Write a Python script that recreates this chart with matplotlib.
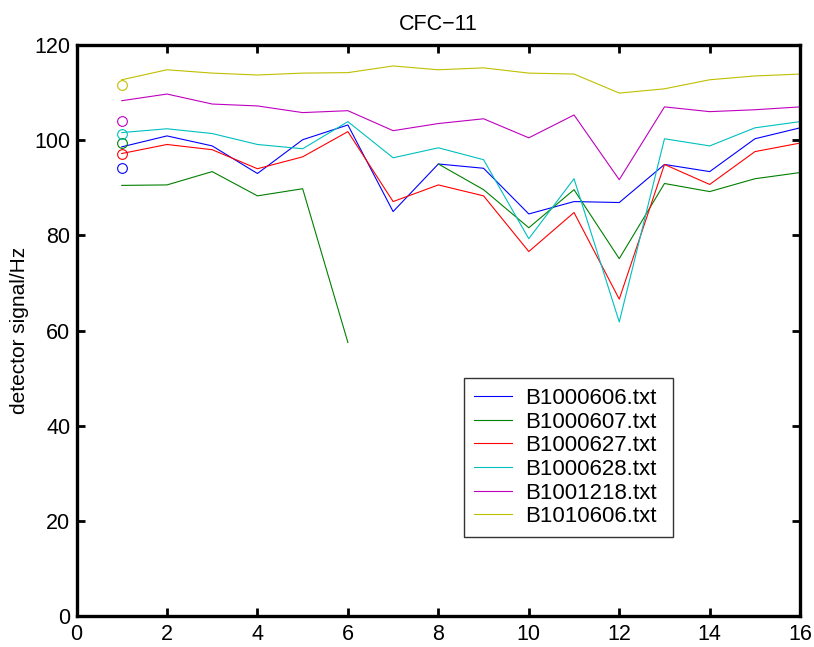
import numpy as np
import matplotlib
matplotlib.use('Agg')
import matplotlib.pyplot as plt

plt.rcParams['font.family'] = ['Liberation Sans', 'DejaVu Sans']

# measurement index
x = np.arange(1, 17)

# detector signal per file
names = ['B1000606.txt', 'B1000607.txt', 'B1000627.txt',
         'B1000628.txt', 'B1001218.txt', 'B1010606.txt']
b1000606 = [98.6, 100.9, 98.8, 93.0, 100.1, 103.2, 85.0, 95.0,
            94.1, 84.5, 87.1, 86.9, 94.9, 93.4, 100.3, 102.6]
b1000607 = [90.5, 90.6, 93.4, 88.3, 89.8, 57.5, np.nan, 95.0,
            89.6, 81.6, 89.6, 75.1, 90.9, 89.2, 91.9, 93.2]
b1000627 = [97.2, 99.1, 98.0, 94.0, 96.5, 101.8, 87.1, 90.6,
            88.3, 76.6, 84.8, 66.6, 94.9, 90.7, 97.6, 99.4]
b1000628 = [101.6, 102.4, 101.4, 99.1, 98.2, 103.9, 96.3, 98.4,
            95.9, 79.3, 91.9, 61.8, 100.3, 98.8, 102.6, 103.9]
b1001218 = [108.3, 109.7, 107.6, 107.2, 105.8, 106.2, 102.0, 103.5,
            104.5, 100.5, 105.3, 91.7, 107.0, 106.0, 106.4, 107.0]
b1010606 = [112.7, 114.8, 114.1, 113.7, 114.1, 114.2, 115.6, 114.8,
            115.2, 114.1, 113.9, 109.9, 110.8, 112.7, 113.5, 113.9]
series = [b1000606, b1000607, b1000627, b1000628, b1001218, b1010606]

# reference (first-point) markers at x=1
ref_vals = [94.2, 99.5, 97.2, 101.2, 104.1, 111.6]

# matlab default line colours
colors = ['#0000ff', '#008000', '#ff0000', '#00bfbf', '#bf00bf', '#bfbf00']

fig = plt.figure(figsize=(8.14, 6.47), dpi=100)
ax = fig.add_axes([0.094, 0.0479, 0.889, 0.8825])

for vals, name, c in zip(series, names, colors):
    ax.plot(x, vals, color=c, linewidth=0.8, label=name)

for v, c in zip(ref_vals, colors):
    ax.plot(1, v, 'o', markerfacecolor='none', markeredgecolor=c,
            markersize=7, markeredgewidth=0.8)

ax.set_xlim(0, 16)
ax.set_ylim(0, 120)
ax.set_xticks(np.arange(0, 17, 2))
ax.set_yticks(np.arange(0, 121, 20))
ax.tick_params(direction='in', length=6, width=2.0, labelsize=15.5,
               top=True, right=True)
ax.tick_params(axis='x', pad=6)
ax.tick_params(axis='y', pad=4.5)
for s in ax.spines.values():
    s.set_linewidth(2.4)

ax.set_title('CFC\u221211', fontsize=15.5, pad=11)
ax.set_ylabel('detector signal/Hz', fontsize=15, labelpad=4)

leg = ax.legend(loc='upper left', bbox_to_anchor=(0.5356, 0.135, 0.289, 0.282),
                mode='expand', fontsize=16, frameon=True, fancybox=False,
                borderpad=0.45, labelspacing=0.12, handlelength=1.7,
                handletextpad=0.6, borderaxespad=0)
leg.get_frame().set_edgecolor('black')
leg.get_frame().set_linewidth(1.0)

plt.savefig('out.png', dpi=100)
